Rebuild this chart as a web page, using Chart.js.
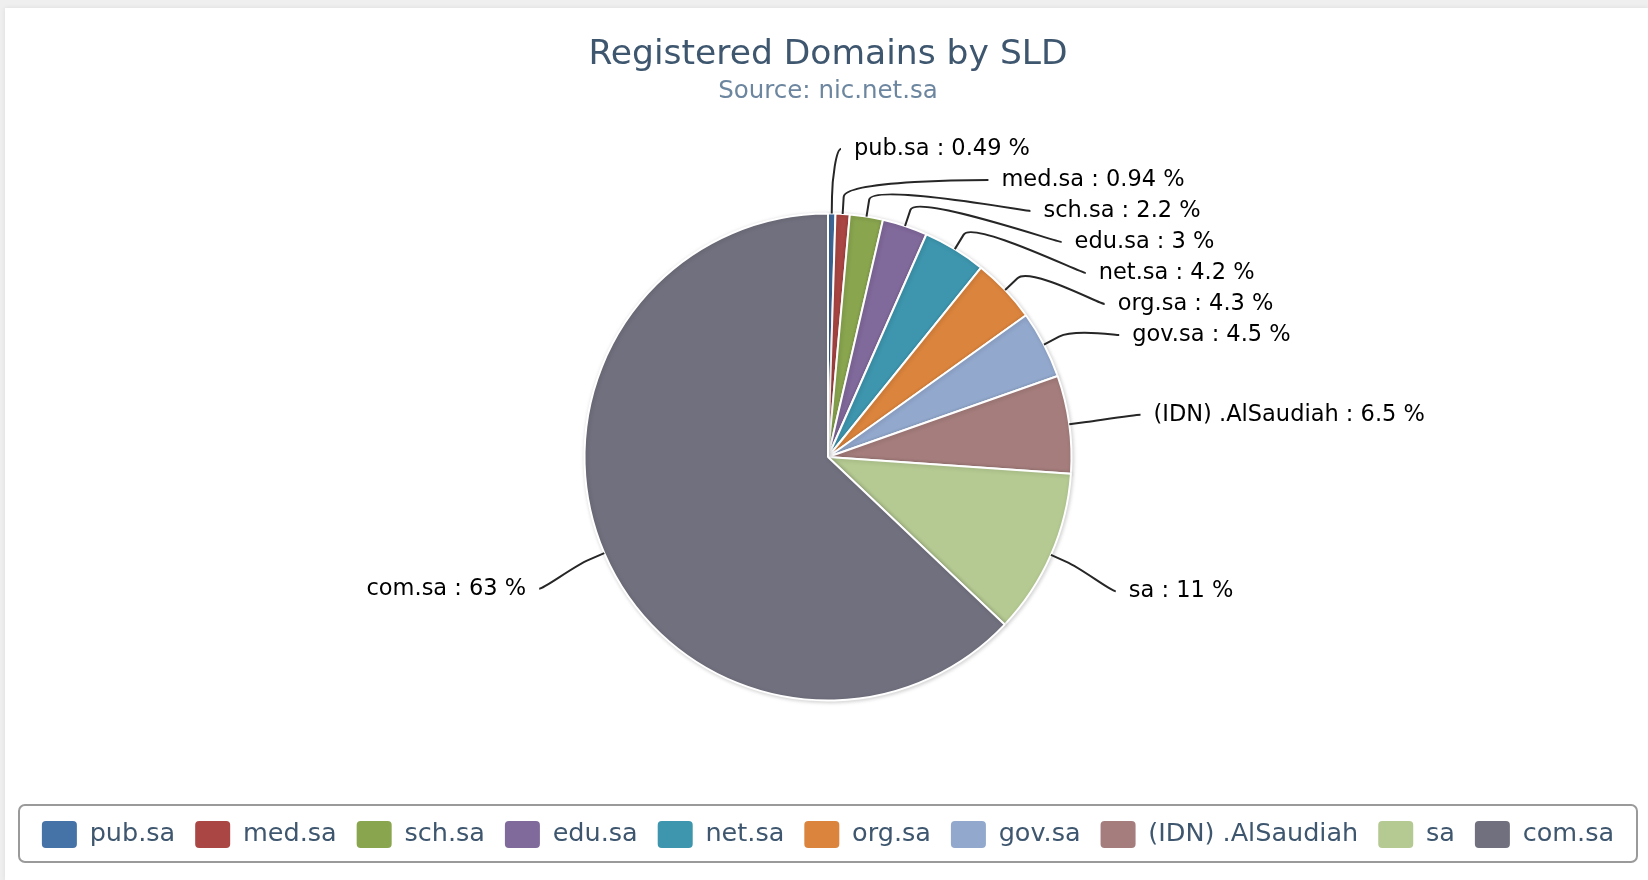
<!DOCTYPE html>
<html>
<head>
<meta charset="utf-8">
<title>Registered Domains by SLD</title>
<script src="https://cdn.jsdelivr.net/npm/chart.js@4.4.0/dist/chart.umd.min.js"></script>
<style>
    html, body { margin: 0; padding: 0; background: #efefef; overflow: hidden; }
    #card { position: absolute; left: 5px; top: 8px; right: 0; bottom: 0; background: #fff;
            box-shadow: 0 0 5px rgba(0,0,0,0.08); }
    #chart { position: absolute; left: 0; top: 0; }
</style>
</head>
<body>
<div id="card"></div>
<canvas id="chart" width="1648" height="880"></canvas>
<script>

// registered domains per second level domain, share in %
var names = ['pub.sa', 'med.sa', 'sch.sa', 'edu.sa', 'net.sa', 'org.sa', 'gov.sa', '(IDN) .AlSaudiah', 'sa', 'com.sa'];
var shares = [0.49, 0.94, 2.2, 3, 4.2, 4.3, 4.5, 6.5, 11, 63];
var colors = ['#4572A7', '#AA4643', '#89A54E', '#80699B', '#3D96AE', '#DB843D', '#92A8CD', '#A47D7C', '#B5CA92', '#71707E'];

var FONT = "'DejaVu Sans', Verdana, sans-serif";

// spread labels of one side so they keep a minimum gap, as close to their natural y as possible
var spread = function(items, gap, lo, hi){
    items.sort(function(a, b){ return a.ideal - b.ideal; });
    var place = function(g){
        var s = 0;
        g.items.forEach(function(it, k){ s += it.ideal - k * gap; });
        var t = s / g.items.length;
        g.top = Math.max(lo, Math.min(hi - (g.items.length - 1) * gap, t));
    };
    var groups = [];
    items.forEach(function(it){
        var g = {items: [it]};
        place(g);
        groups.push(g);
        while(groups.length > 1){
            var prev = groups[groups.length - 2], cur = groups[groups.length - 1];
            if(prev.top + prev.items.length * gap <= cur.top) break;
            prev.items = prev.items.concat(cur.items);
            groups.pop();
            place(prev);
        }
    });
    groups.forEach(function(g){
        g.items.forEach(function(it, k){ it.y = g.top + k * gap; });
    });
};

var sliceLabels = {
    id: 'sliceLabels',
    afterDatasetsDraw: function(chart){
        var ctx = chart.ctx;
        var arcs = chart.getDatasetMeta(0).data;
        var cx = arcs[0].x, cy = arcs[0].y, r = arcs[0].outerRadius;
        var R = r + 85;
        var right = [], left = [];
        arcs.forEach(function(arc, i){
            var a = (arc.startAngle + arc.endAngle) / 2;
            var item = {a: a, ideal: cy + R * Math.sin(a), text: names[i] + ' : ' + shares[i] + ' %'};
            (Math.cos(a) >= 0 ? right : left).push(item);
        });
        var lo = chart.chartArea.top + 34, hi = chart.chartArea.bottom - 20;
        spread(right, 31, lo, hi);
        spread(left, 31, lo, hi);

        ctx.save();
        ctx.font = '22.5px ' + FONT;
        ctx.textBaseline = 'middle';
        ctx.strokeStyle = '#262626';
        ctx.lineWidth = 2;
        ctx.fillStyle = '#000';
        var draw = function(it, isRight, first){
            // the top label takes its x from its natural place, like the original chart
            var dy = (first ? it.ideal : it.y) - cy;
            var dx = Math.sqrt(Math.max(0, R * R - dy * dy));
            var sgn = isRight ? 1 : -1;
            var tx = isRight ? Math.max(cx + dx, cx + 26) : Math.min(cx - dx, cx - 26);
            var ty = it.y + 2;
            var c = Math.cos(it.a), s = Math.sin(it.a);
            var ex = cx + r * c, ey = cy + r * s;
            var off = 17;
            ctx.beginPath();
            ctx.moveTo(tx - sgn * 13, ty);
            ctx.bezierCurveTo(tx - sgn * 18, ty,
                ex + c * off * 2, ey + s * off * 2,
                ex + c * off, ey + s * off);
            ctx.lineTo(ex, ey);
            ctx.stroke();
            ctx.textAlign = isRight ? 'left' : 'right';
            ctx.fillText(it.text, tx, ty);
        };
        right.forEach(function(it, k){ draw(it, true, k === 0 && right.length > 1); });
        left.forEach(function(it, k){ draw(it, false, k === 0 && left.length > 1); });
        ctx.restore();
    }
};

var pieShadow = {
    id: 'pieShadow',
    beforeDatasetsDraw: function(chart){
        var ctx = chart.ctx;
        ctx.save();
        ctx.shadowColor = 'rgba(0,0,0,0.18)';
        ctx.shadowBlur = 4;
        ctx.shadowOffsetX = 1;
        ctx.shadowOffsetY = 1;
    },
    afterDatasetsDraw: function(chart){
        chart.ctx.restore();
    }
};

var legendFrame = {
    id: 'legendFrame',
    afterDraw: function(chart){
        var lg = chart.legend, ctx = chart.ctx;
        ctx.save();
        ctx.strokeStyle = '#9a9a9a';
        ctx.lineWidth = 2;
        ctx.beginPath();
        ctx.roundRect(lg.left + 1, lg.top + 4, lg.width - 2, lg.height, 6);
        ctx.stroke();
        ctx.restore();
    }
};

var ctx = document.getElementById('chart').getContext('2d');
new Chart(ctx, {
    type: 'pie',
    data: {
        labels: names,
        datasets: [{
            data: shares,
            backgroundColor: colors,
            borderColor: '#fff',
            borderWidth: 2,
            radius: 243.5
        }]
    },
    options: {
        responsive: false,
        animation: false,
        devicePixelRatio: 1,
        layout: { padding: { left: 18, right: 10, top: 0, bottom: 22 } },
        plugins: {
            title: {
                display: true,
                text: 'Registered Domains by SLD',
                color: '#3E576F',
                font: { family: FONT, size: 34.5, weight: 'normal' },
                padding: { top: 34.3, bottom: 0 }
            },
            subtitle: {
                display: true,
                text: 'Source: nic.net.sa',
                color: '#6D869F',
                font: { family: FONT, size: 24.5, weight: 'normal' },
                padding: { top: 1.6, bottom: 6.3 }
            },
            legend: {
                position: 'bottom',
                labels: {
                    color: '#3E576F',
                    font: { family: FONT, size: 25.5 },
                    boxWidth: 35,
                    boxHeight: 27,
                    padding: 20,
                    useBorderRadius: true,
                    borderRadius: 4,
                    generateLabels: function(chart){
                        var items = Chart.overrides.pie.plugins.legend.labels.generateLabels(chart);
                        items.forEach(function(it){ it.lineWidth = 0; it.borderRadius = 4; });
                        return items;
                    }
                }
            },
            tooltip: { enabled: false }
        }
    },
    plugins: [pieShadow, sliceLabels, legendFrame]
});

</script>
</body>
</html>
